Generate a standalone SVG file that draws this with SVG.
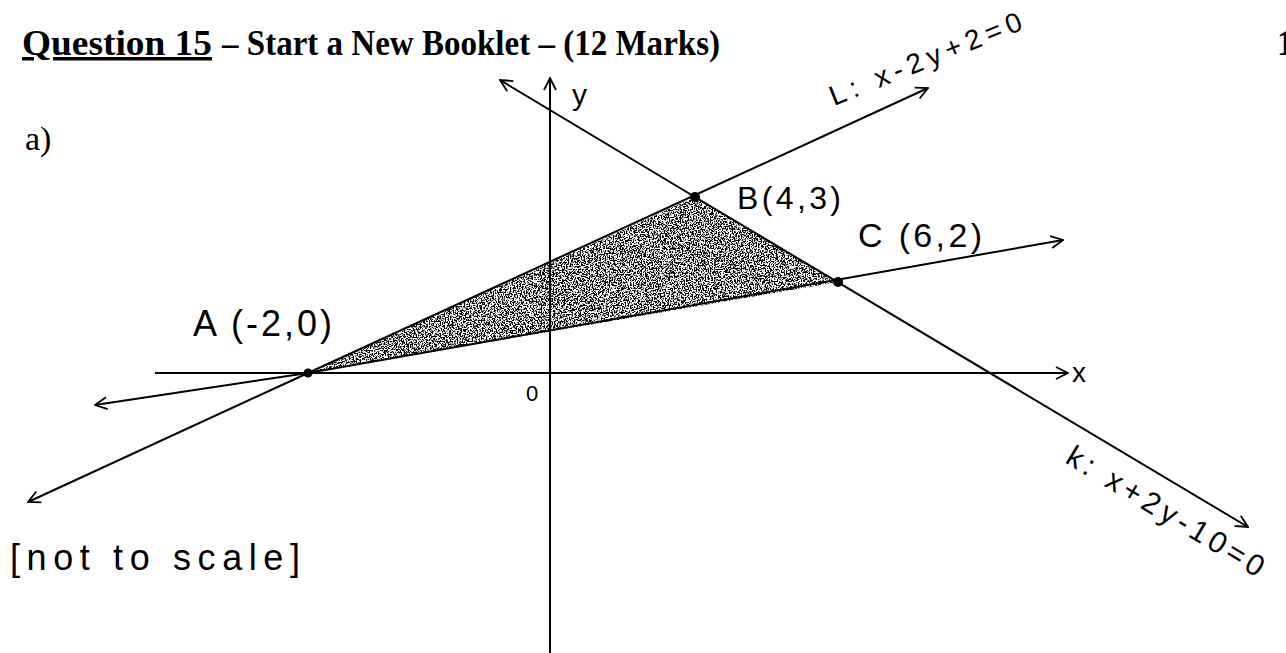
<svg xmlns="http://www.w3.org/2000/svg" width="1286" height="653" viewBox="0 0 1286 653">
<style>
.ln{stroke:#000;stroke-width:2;fill:none}
.hw{font-family:"Liberation Sans","DejaVu Sans",sans-serif;fill:#000}
.ttl{font-family:"Liberation Serif","DejaVu Serif",serif;font-weight:bold;fill:#000}
</style>
<defs>
<marker id="ar" viewBox="0 0 14 14" refX="13" refY="7" markerWidth="14" markerHeight="14" markerUnits="userSpaceOnUse" orient="auto">
<path d="M1,1 L13,7 L1,13" fill="none" stroke="#000" stroke-width="1.8"/>
</marker>
<filter id="speckle" x="0" y="0" width="1" height="1">
<feTurbulence type="fractalNoise" baseFrequency="0.75" numOctaves="2" seed="4" result="n"/>
<feColorMatrix in="n" type="matrix" values="0 0 0 0 0  0 0 0 0 0  0 0 0 0 0  14 0 0 0 -6.6" result="d"/>
<feComposite in="d" in2="SourceGraphic" operator="in"/>
</filter>
</defs>
<rect width="1286" height="653" fill="#fff"/>
<g id="title">
<text class="ttl" x="22" y="55" font-size="35" textLength="190" lengthAdjust="spacingAndGlyphs" text-decoration="underline">Question 15</text>
<text class="ttl" x="222" y="55" font-size="35" textLength="498" lengthAdjust="spacingAndGlyphs">– Start a New Booklet – (12 Marks)</text>
<text class="ttl" x="1277" y="55" font-size="35">1</text>
<text x="25" y="150" font-family="'Liberation Serif','DejaVu Serif',serif" font-size="34" fill="#000">a)</text>
</g>
<g id="region">
<polygon points="308,373 695,197 838,282" fill="#000" filter="url(#speckle)"/>
</g>
<g id="connectors">
<line id="x-axis" class="ln" x1="155" y1="373" x2="1068" y2="373" marker-end="url(#ar)"/>
<line id="y-axis" class="ln" x1="550" y1="653" x2="550" y2="78" marker-end="url(#ar)"/>
<line id="line-L-up" class="ln" x1="308" y1="373" x2="928" y2="88" marker-end="url(#ar)"/>
<line id="line-L-down" class="ln" x1="308" y1="373" x2="28" y2="502" marker-end="url(#ar)"/>
<line id="line-k-up" class="ln" x1="695" y1="197" x2="500" y2="80" marker-end="url(#ar)"/>
<line id="line-k-down" class="ln" x1="695" y1="197" x2="1248" y2="527" marker-end="url(#ar)"/>
<line id="line-AC-left" class="ln" x1="308" y1="373" x2="95" y2="405" marker-end="url(#ar)"/>
<line id="line-AC-right" class="ln" x1="308" y1="373" x2="1063" y2="240" marker-end="url(#ar)"/>
</g>
<g id="axis-labels">
<text class="hw" x="572" y="105" font-size="30">y</text>
<text class="hw" x="1072" y="382" font-size="28">x</text>
<text class="hw" x="526" y="401" font-size="22">0</text>
</g>
<g id="point-A">
<circle cx="308" cy="373" r="4.5" fill="#000"/>
<text class="hw" x="193" y="336" font-size="36" textLength="139" lengthAdjust="spacing">A (-2,0)</text>
</g>
<g id="point-B">
<circle cx="695" cy="197" r="5" fill="#000"/>
<text class="hw" x="737" y="209" font-size="32" textLength="104" lengthAdjust="spacing">B(4,3)</text>
</g>
<g id="point-C">
<circle cx="838" cy="282" r="5" fill="#000"/>
<text class="hw" x="858" y="247" font-size="34" textLength="124" lengthAdjust="spacing">C (6,2)</text>
</g>
<g id="label-L">
<text class="hw" x="834" y="106" font-size="28" textLength="205" lengthAdjust="spacing" transform="rotate(-22 834 106)">L: x-2y+2=0</text>
</g>
<g id="label-k">
<text class="hw" x="1064" y="462" font-size="30" textLength="225" lengthAdjust="spacing" transform="rotate(31 1064 462)">k: x+2y-10=0</text>
</g>
<g id="note">
<text class="hw" x="10" y="570" font-size="36" textLength="290" lengthAdjust="spacing">[not to scale]</text>
</g>
</svg>
